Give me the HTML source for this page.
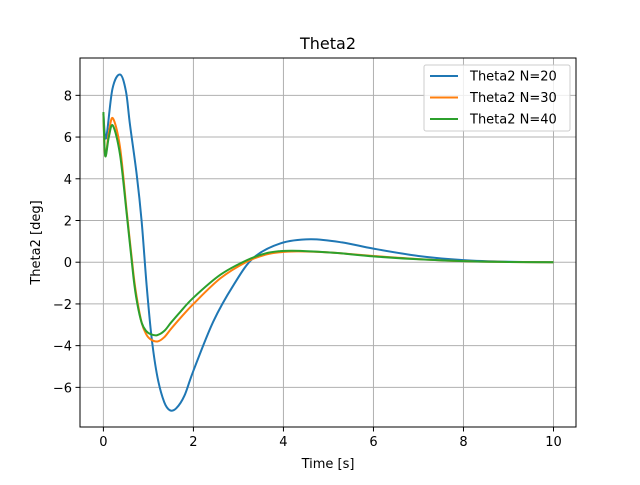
<!DOCTYPE html>
<html><head><meta charset="utf-8"><style>
body{margin:0;background:#fff}
svg{font-family:"DejaVu Sans","Liberation Sans",sans-serif}
</style></head><body>
<svg id="c" width="640" height="480"></svg>
<script>
const tickX=[0,2,4,6,8,10];
const tickY=[-6,-4,-2,0,2,4,6,8];
const seriesNames=["Theta2 N=20","Theta2 N=30","Theta2 N=40"];
const t20=[0,0.06,0.2,0.37,0.5,0.59,0.74,0.85,0.96,1.07,1.2,1.35,1.48,1.62,1.8,2.0,2.44,2.89,3.33,3.93,4.6,5.3,6,7,8,9,10];
const y20=[7.1,5.95,8.3,9.0,8.2,6.6,4.2,1.95,-1.1,-3.6,-5.5,-6.7,-7.1,-7.0,-6.4,-5.2,-2.85,-1.1,0.2,0.9,1.1,0.95,0.65,0.3,0.1,0.02,0];
const t30=[0,0.04,0.12,0.21,0.37,0.52,0.67,0.75,0.85,0.95,1.05,1.2,1.35,1.5,1.7,2.0,2.6,3.19,3.6,3.93,4.3,4.7,5.2,6,7,8,9,10];
const y30=[7.1,5.1,6.2,6.9,5.5,2.4,-0.6,-1.8,-2.9,-3.45,-3.7,-3.8,-3.6,-3.2,-2.7,-2.0,-0.77,0.03,0.36,0.48,0.52,0.5,0.44,0.3,0.15,0.05,0.01,0];
const t40=[0,0.04,0.12,0.21,0.37,0.52,0.67,0.75,0.85,0.95,1.05,1.19,1.35,1.5,1.7,2.0,2.6,3.19,3.6,3.93,4.2,4.6,5.2,6,7,8,9,10];
const y40=[7.2,5.1,6.0,6.55,5.15,2.27,-0.77,-1.95,-2.9,-3.3,-3.45,-3.5,-3.3,-2.9,-2.4,-1.7,-0.6,0.1,0.42,0.53,0.55,0.52,0.44,0.28,0.14,0.05,0.01,0];
const colors=["#1f77b4","#ff7f0e","#2ca02c"];
const L=80,R=576,T=58,B=427,x0=-0.52,x1=10.5,y0=-7.9,y1=9.79;
const sx=v=>L+(v-x0)/(x1-x0)*(R-L), sy=v=>B-(v-y0)/(y1-y0)*(B-T);
const svg=document.getElementById('c'),NS="http://www.w3.org/2000/svg";
function el(tag,attrs,txt){const e=document.createElementNS(NS,tag);for(const k in attrs)e.setAttribute(k,attrs[k]);if(txt!==undefined)e.textContent=txt;svg.appendChild(e);return e;}
tickX.forEach(v=>{const x=sx(v);
 const g=el('line',{x1:x,x2:x,y1:T,y2:B,stroke:'#b0b0b0','stroke-width':1});
 
 
 el('line',{x1:x,x2:x,y1:B,y2:B+4.5,stroke:'#000','stroke-width':1});
 const t=el('text',{x:x,y:B+19,'font-size':13,'text-anchor':'middle'},v);
 
 });
tickY.forEach(v=>{const y=sy(v);
 const g=el('line',{x1:L,x2:R,y1:y,y2:y,stroke:'#b0b0b0','stroke-width':1});
 
 
 el('line',{x1:L-4.5,x2:L,y1:y,y2:y,stroke:'#000','stroke-width':1});
 const t=el('text',{x:L-8,y:y+5,'font-size':13,'text-anchor':'end'},v<0?'\u2212'+(-v):v);
 
 });
function path(ts,ys){const p=ts.map((t,i)=>[sx(t),sy(ys[i])]);let d='M'+p[0][0]+','+p[0][1];
 for(let i=0;i<p.length-1;i++){const a=p[Math.max(0,i-1)],b=p[i],c=p[i+1],e=p[Math.min(p.length-1,i+2)];
  d+=` C${b[0]+(c[0]-a[0])/6},${b[1]+(c[1]-a[1])/6} ${c[0]-(e[0]-b[0])/6},${c[1]-(e[1]-b[1])/6} ${c[0]},${c[1]}`;}return d;}
[[t20,y20],[t30,y30],[t40,y40]].forEach((s,i)=>{
 const p=el('path',{d:path(s[0],s[1]),fill:'none',stroke:colors[i],'stroke-width':2});
 
 });
const fr=el('rect',{x:L,y:T,width:R-L,height:B-T,fill:'none',stroke:'#000','stroke-width':1});


const ti=el('text',{x:(L+R)/2,y:49,'font-size':16,'text-anchor':'middle'},'Theta2');


const xt=el('text',{x:(L+R)/2,y:468,'font-size':13,'text-anchor':'middle'},'Time [s]');


const yt=el('text',{x:0,y:0,'font-size':13,'text-anchor':'middle',transform:`translate(40,${(T+B)/2}) rotate(-90)`},'Theta2 [deg]');


const lg=el('rect',{x:424,y:65,width:146,height:66,fill:'#fff','fill-opacity':0.8,stroke:'#ccc','stroke-width':1,rx:2});


seriesNames.forEach((n,i)=>{const y=76+i*21.5;
 el('line',{x1:430,x2:458,y1:y,y2:y,stroke:colors[i],'stroke-width':2});
 const t=el('text',{x:470,y:y+4.5,'font-size':13},n);
 
 });
</script>
</body></html>
